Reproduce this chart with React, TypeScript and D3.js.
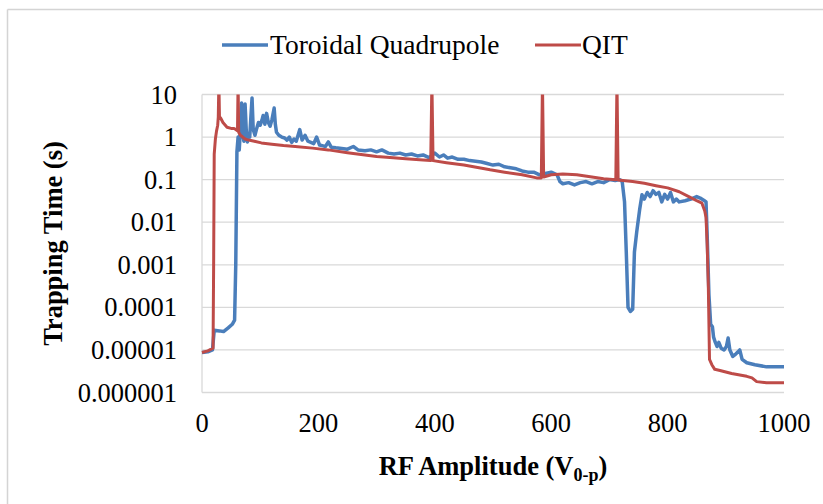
import React from "react";
import * as d3 from "d3";

const xTicks = [0, 200, 400, 600, 800, 1000];
const yTicks = [10, 1, 0.1, 0.01, 0.001, 0.0001, 0.00001, 0.000001];
const yTickLabels = ["10", "1", "0.1", "0.01", "0.001", "0.0001", "0.00001", "0.000001"];
const seriesNames = ["Toroidal Quadrupole", "QIT"];

const toroidalX = [
  0, 10, 18, 21, 30, 37, 45, 52, 56, 58, 60, 62, 64, 66, 68, 70, 72, 74, 76, 78, 80, 82, 84, 86, 88, 91, 94, 97, 100,
  103, 105, 108, 111, 114, 117, 120, 124, 126, 128, 132, 137, 142, 146, 150, 154, 158, 162, 168, 172, 177, 182, 187,
  192, 197, 202, 208, 212, 217, 222, 230, 240, 250, 260, 268, 280, 290, 300, 309, 320, 330, 340, 350, 360, 370, 380,
  390, 400, 408, 415, 422, 430, 440, 450, 460, 470, 480, 490, 500, 510, 520, 530, 540, 550, 560, 570, 580, 590, 600,
  610, 615, 620, 630, 640, 650, 660, 670, 680, 690, 700, 710, 718, 722, 726, 729, 732, 736, 740, 743, 747, 752, 756,
  760, 765, 770, 775, 780, 785, 790, 795, 800, 805, 810, 815, 820, 830, 840, 850, 856, 862, 866, 868, 871, 874, 877,
  879, 882, 885, 888, 892, 897, 901, 904, 907, 912, 917, 921, 924, 928, 936, 950, 970, 1000,
];
const toroidalY = [
  8.7e-6, 9e-6, 1.0e-5, 2.9e-5, 2.8e-5, 2.7e-5, 3.3e-5, 4e-5, 5e-5, 0.001, 0.45, 1.0, 0.5, 1.5, 6.3, 1.2, 0.8, 6.0,
  1.5, 0.77, 1.2, 1.0, 3.0, 8.3, 1.5, 1.1, 1.6, 2.2, 1.9, 2.5, 3.2, 2.0, 3.6, 2.2, 1.8, 2.5, 4.8, 2.0, 1.3, 1.1, 1.0,
  0.95, 0.85, 1.0, 0.75, 0.9, 0.8, 1.5, 0.85, 1.1, 0.8, 0.75, 0.7, 1.0, 0.65, 0.62, 0.6, 0.77, 0.58, 0.56, 0.54, 0.52,
  0.6, 0.5, 0.48, 0.5, 0.45, 0.5, 0.42, 0.4, 0.42, 0.38, 0.4, 0.36, 0.38, 0.33, 0.42, 0.34, 0.38, 0.32, 0.34, 0.3,
  0.3, 0.28, 0.27, 0.26, 0.24, 0.22, 0.23, 0.2, 0.19, 0.18, 0.16, 0.15, 0.15, 0.13, 0.14, 0.15, 0.13, 0.09, 0.08,
  0.085, 0.075, 0.085, 0.09, 0.08, 0.09, 0.085, 0.1, 0.095, 0.1, 0.09, 0.03, 0.002, 0.0001, 0.00008, 0.00009, 0.002,
  0.006, 0.02, 0.044, 0.035, 0.05, 0.04, 0.055, 0.045, 0.05, 0.03, 0.045, 0.035, 0.05, 0.03, 0.035, 0.03, 0.032,
  0.035, 0.04, 0.037, 0.033, 0.03, 0.005, 0.0002, 4e-5, 3.5e-5, 2e-5, 1.5e-5, 1.2e-5, 1.5e-5, 1.1e-5, 1e-5, 1.2e-5,
  1.9e-5, 1e-5, 7e-6, 8e-6, 9e-6, 1e-5, 6e-6, 5e-6, 4.5e-6, 4e-6, 4e-6,
];

const qitX = [
  0, 10, 19, 20, 21, 23, 25, 27, 28, 29, 30, 32, 36, 43, 50, 55, 58, 61, 62, 63, 66, 70, 74, 80, 90, 102, 120, 140,
  160, 190, 217, 250, 280, 300, 323, 350, 380, 393, 395, 397, 420, 450, 495, 520, 550, 575, 583, 585, 587, 600, 620,
  644, 670, 690, 711, 713, 715, 740, 760, 780, 800, 820, 838, 850, 859, 864, 866, 868, 870, 872, 876, 881, 890, 910,
  936, 945, 953, 970, 1000,
];
const qitY = [
  8.7e-6, 9.5e-6, 1.1e-5, 0.001, 0.4, 0.9, 1.4, 1.9, 3, 20, 3, 2.8, 2.2, 1.7, 1.6, 1.6, 1.5, 1.4, 20, 1.3, 1.1, 1.0,
  0.9, 0.85, 0.8, 0.73, 0.68, 0.63, 0.6, 0.55, 0.5, 0.43, 0.38, 0.35, 0.33, 0.31, 0.29, 0.28, 20, 0.28, 0.25, 0.22,
  0.17, 0.15, 0.13, 0.11, 0.11, 20, 0.115, 0.13, 0.135, 0.13, 0.115, 0.105, 0.1, 20, 0.098, 0.09, 0.082, 0.072,
  0.064, 0.052, 0.039, 0.032, 0.028, 0.018, 0.013, 0.003, 0.0003, 6e-6, 4.5e-6, 3.5e-6, 3.3e-6, 2.8e-6, 2.4e-6,
  2.2e-6, 1.8e-6, 1.7e-6, 1.7e-6,
];

const W = 823;
const H = 504;
const plot = { left: 202, right: 784, top: 94.5, bottom: 392.5 };
const BLUE = "#4a7ebb";
const RED = "#be4b48";
const textStyle = { fontFamily: "'Liberation Serif'" };

export default function App() {
  const x = d3.scaleLinear().domain([0, 1000]).range([plot.left, plot.right]);
  const y = d3.scaleLog().domain([1e-6, 10]).range([plot.bottom, plot.top]);
  const line = d3
    .line<[number, number]>()
    .x((d) => x(d[0]))
    .y((d) => y(d[1]));
  const blueData = toroidalX.map((v, i) => [v, toroidalY[i]] as [number, number]);
  const redData = qitX.map((v, i) => [v, qitY[i]] as [number, number]);

  return (
    <svg width={W} height={H} style={{ position: "absolute", left: 0, top: 0, background: "#fff" }}>
      <defs>
        <clipPath id="plotClip">
          <rect x={plot.left - 5} y={plot.top} width={plot.right - plot.left + 10} height={plot.bottom - plot.top + 5} />
        </clipPath>
      </defs>
      {/* chart border */}
      <line x1={7.5} x2={W} y1={9.5} y2={9.5} stroke="#d4d4d4" strokeWidth={1.5} />
      <line x1={7.5} x2={7.5} y1={9.5} y2={H} stroke="#d4d4d4" strokeWidth={1.5} />

      {/* gridlines */}
      {yTicks.map((t) => (
        <line key={t} x1={plot.left} x2={plot.right} y1={y(t)} y2={y(t)} stroke="#d9d9d9" strokeWidth={1.3} />
      ))}
      <line x1={plot.left} x2={plot.left} y1={plot.top} y2={plot.bottom} stroke="#d9d9d9" strokeWidth={1.3} />

      {/* y tick labels */}
      {yTicks.map((t, i) => (
        <text key={t} x={177} y={y(t) + 9} fontSize={26.5} style={textStyle}>
          <tspan textAnchor="end">{yTickLabels[i]}</tspan>
        </text>
      ))}
      {/* x tick labels */}
      {xTicks.map((t) => (
        <text key={t} x={x(t)} y={432} textAnchor="middle" fontSize={26.5} style={textStyle}>
          {t}
        </text>
      ))}

      {/* series */}
      <g clipPath="url(#plotClip)">
        <path d={line(blueData) || ""} fill="none" stroke={BLUE} strokeWidth={3.5} strokeLinejoin="round" />
        <path d={line(redData) || ""} fill="none" stroke={RED} strokeWidth={3} strokeLinejoin="round" />
      </g>

      {/* axis titles */}
      <text x={plot.left + (plot.right - plot.left) / 2} y={475} textAnchor="middle" fontSize={26.5} fontWeight="bold" style={textStyle}>
        RF Amplitude (V
        <tspan fontSize={18} dy={6}>0-p</tspan>
        <tspan dy={-6}>)</tspan>
      </text>
      <text
        transform={`translate(62, ${(plot.top + plot.bottom) / 2}) rotate(-90)`}
        textAnchor="middle"
        fontSize={26.5}
        fontWeight="bold"
        style={textStyle}
      >
        Trapping Time (s)
      </text>

      {/* legend */}
      <line x1={222} x2={268} y1={45} y2={45} stroke={BLUE} strokeWidth={3.5} />
      <text x={270} y={54} fontSize={27.5} style={textStyle}>
        {seriesNames[0]}
      </text>
      <line x1={535} x2={581} y1={45} y2={45} stroke={RED} strokeWidth={3} />
      <text x={582} y={54} fontSize={27.5} style={textStyle}>
        {seriesNames[1]}
      </text>
    </svg>
  );
}
